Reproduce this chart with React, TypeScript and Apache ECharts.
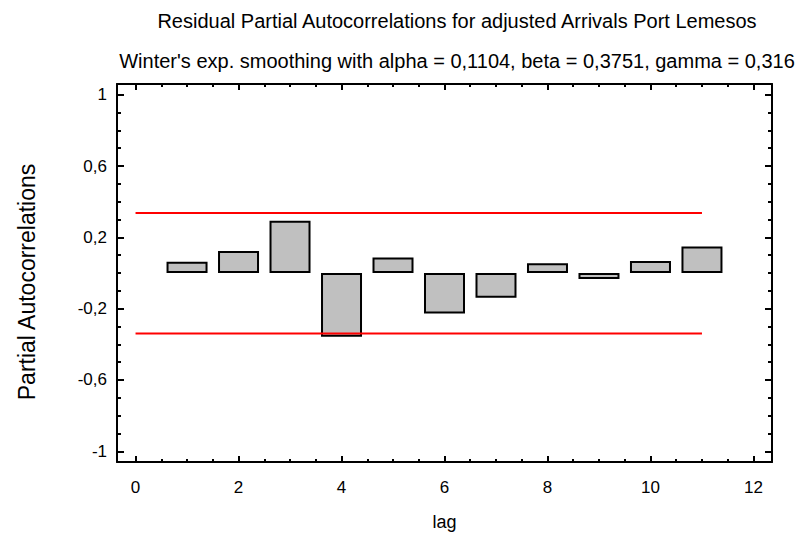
import React, { useEffect, useRef } from "react";
import * as echarts from "echarts";

const lags = [1, 2, 3, 4, 5, 6, 7, 8, 9, 10, 11];
const pacf = [0.063, 0.124, 0.293, -0.357, 0.087, -0.227, -0.139, 0.054, -0.033, 0.067, 0.148];
const limitUpper = 0.337;
const limitLower = -0.339;
const limitStart = 0;
const limitEnd = 11;
const xMajor = [0, 2, 4, 6, 8, 10, 12];
const xMinor = [0.5, 1, 1.5, 2.5, 3, 3.5, 4.5, 5, 5.5, 6.5, 7, 7.5, 8.5, 9, 9.5, 10.5, 11, 11.5];
const yMajor = [-1, -0.6, -0.2, 0.2, 0.6, 1];
const yMinor = [-0.9, -0.8, -0.7, -0.5, -0.4, -0.3, -0.1, 0, 0.1, 0.3, 0.4, 0.5, 0.7, 0.8, 0.9];
const xMin = -0.36;
const xMax = 12.36;
const yMin = -1.06;
const yMax = 1.06;

const FONT = "'Liberation Sans', Arial, sans-serif";
const fmt = (v: number) => String(Math.round(v * 10) / 10).replace(".", ",");

export default function App() {
  const ref = useRef<HTMLDivElement>(null);
  useEffect(() => {
    if (!ref.current) return;
    const chart = echarts.init(ref.current, undefined, { renderer: "svg" });
    const lineStyle = { color: "#000", width: 2 };
    const mkX = (pos: "top" | "bottom", major: boolean, showLine: boolean, labels: boolean) => ({
      type: "value",
      position: pos,
      min: xMin,
      max: xMax,
      splitLine: { show: false },
      axisLine: { show: showLine, onZero: false, lineStyle },
      axisTick: {
        show: true,
        inside: true,
        length: major ? 6 : 3,
        customValues: major ? xMajor : xMinor,
        lineStyle: { color: "#000", width: 2 },
      },
      axisLabel: labels
        ? { show: true, customValues: xMajor, formatter: fmt, fontSize: 17, color: "#000", fontFamily: FONT, margin: 17 }
        : { show: false },
      ...(labels
        ? {
            name: "lag",
            nameLocation: "middle",
            nameGap: 51,
            nameTextStyle: { fontSize: 18, color: "#000", fontFamily: FONT },
          }
        : {}),
    });
    const mkY = (pos: "left" | "right", major: boolean, showLine: boolean, labels: boolean) => ({
      type: "value",
      position: pos,
      min: yMin,
      max: yMax,
      splitLine: { show: false },
      axisLine: { show: showLine, onZero: false, lineStyle },
      axisTick: {
        show: true,
        inside: true,
        length: major ? 7 : 4,
        customValues: major ? yMajor : yMinor,
        lineStyle: { color: "#000", width: 2 },
      },
      axisLabel: labels
        ? { show: true, customValues: yMajor, formatter: fmt, fontSize: 17, color: "#000", fontFamily: FONT, margin: 10 }
        : { show: false },
    });
    chart.setOption({
      animation: false,
      backgroundColor: "#fff",
      grid: { left: 117, right: 26, top: 84, bottom: 73, containLabel: false },
      xAxis: [
        mkX("bottom", true, true, true),
        mkX("bottom", false, false, false),
        mkX("top", true, true, false),
        mkX("top", false, false, false),
      ],
      yAxis: [
        mkY("left", true, true, true),
        mkY("left", false, false, false),
        mkY("right", true, true, false),
        mkY("right", false, false, false),
      ],
      graphic: [
        {
          type: "text",
          x: 457,
          y: 21,
          style: {
            text: "Residual Partial Autocorrelations for adjusted Arrivals Port Lemesos",
            fontSize: 20,
            fontFamily: FONT,
            fill: "#000",
            textAlign: "center",
            textVerticalAlign: "middle",
          },
        },
        {
          type: "text",
          x: 457,
          y: 61,
          style: {
            text: "Winter's exp. smoothing with alpha = 0,1104, beta = 0,3751, gamma = 0,316",
            fontSize: 20,
            fontFamily: FONT,
            fill: "#000",
            textAlign: "center",
            textVerticalAlign: "middle",
          },
        },
        {
          type: "text",
          x: 27,
          y: 282,
          rotation: Math.PI / 2,
          style: {
            text: "Partial Autocorrelations",
            fontSize: 23,
            fontFamily: FONT,
            fill: "#000",
            textAlign: "center",
            textVerticalAlign: "middle",
          },
        },
      ],
      series: [
        {
          type: "bar",
          xAxisIndex: 0,
          yAxisIndex: 0,
          barWidth: 41,
          data: lags.map((l, i) => [l, pacf[i]]),
          itemStyle: { color: "#c0c0c0", borderColor: "#000", borderWidth: 2 },
        },
        {
          type: "line",
          xAxisIndex: 0,
          yAxisIndex: 0,
          symbol: "none",
          data: [
            [limitStart, limitUpper],
            [limitEnd, limitUpper],
          ],
          lineStyle: { color: "#ff0000", width: 2 },
        },
        {
          type: "line",
          xAxisIndex: 0,
          yAxisIndex: 0,
          symbol: "none",
          data: [
            [limitStart, limitLower],
            [limitEnd, limitLower],
          ],
          lineStyle: { color: "#ff0000", width: 2 },
        },
      ],
    });
    return () => chart.dispose();
  }, []);
  return <div ref={ref} style={{ position: "absolute", left: 0, top: 0, width: 798, height: 536 }} />;
}
